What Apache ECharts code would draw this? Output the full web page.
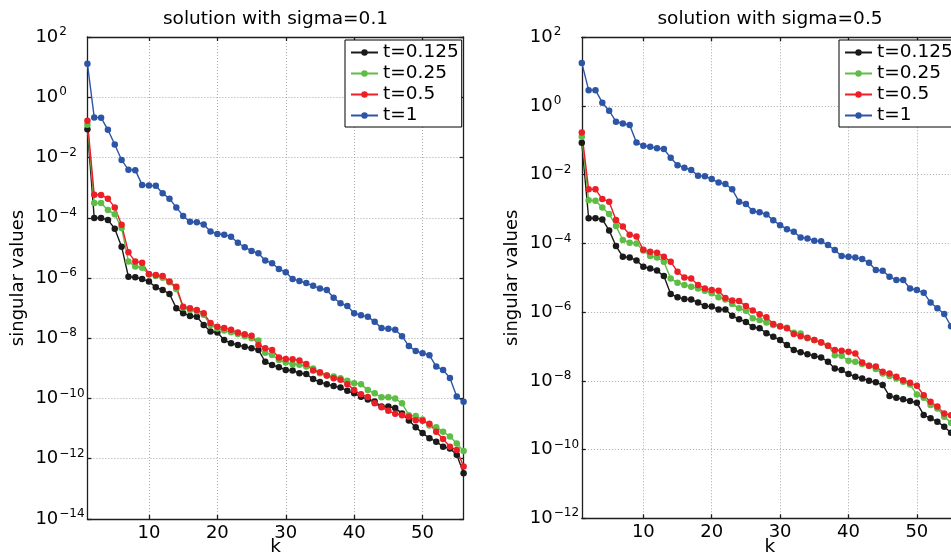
<!DOCTYPE html>
<html><head><meta charset="utf-8">
<script src="https://cdn.jsdelivr.net/npm/echarts@6/dist/echarts.min.js"></script>
<style>html,body{margin:0;padding:0;background:#fff}#c{width:951px;height:558px}</style>
</head><body><div id="c"></div>
<script>
// k index (x axis)
const K = [1,2,3,4,5,6,7,8,9,10,11,12,13,14,15,16,17,18,19,20,21,22,23,24,25,26,27,28,
  29,30,31,32,33,34,35,36,37,38,39,40,41,42,43,44,45,46,47,48,49,50,51,52,53,54,55,56];
const seriesNames = ['t=0.125','t=0.25','t=0.5','t=1'];
const xTicks = [10,20,30,40,50];
const titles = ['solution with sigma=0.1','solution with sigma=0.5'];

// sigma = 0.1
const s1_t0125 = [8.7e-2,9.8e-5,9.8e-5,8.5e-5,4.3e-5,1.1e-5,1.1e-6,1.05e-6,9.3e-7,7.6e-7,4.9e-7,4.0e-7,2.95e-7,1.0e-7,
  6.8e-8,5.5e-8,5.2e-8,2.75e-8,1.66e-8,1.55e-8,8.7e-9,6.8e-9,6.0e-9,5.2e-9,4.7e-9,4.1e-9,1.66e-9,1.29e-9,
  1.1e-9,8.9e-10,8.5e-10,6.9e-10,6.5e-10,4.4e-10,3.5e-10,3.0e-10,2.6e-10,2.3e-10,1.8e-10,1.48e-10,1.15e-10,9.3e-11,
  7.9e-11,5.4e-11,5.4e-11,4.8e-11,3.2e-11,1.86e-11,1.12e-11,7.1e-12,4.8e-12,3.7e-12,2.5e-12,2.2e-12,1.35e-12,3.3e-13];
const s1_t025 = [1.23e-1,3.1e-4,3.1e-4,1.8e-4,1.3e-4,4.6e-5,3.5e-6,2.4e-6,2.2e-6,1.3e-6,1.17e-6,1.02e-6,7.2e-7,4.3e-7,
  1.05e-7,8.7e-8,7.9e-8,6.0e-8,2.75e-8,2.1e-8,1.8e-8,1.58e-8,1.38e-8,1.17e-8,1.0e-8,8.5e-9,3.3e-9,2.8e-9,
  1.9e-9,1.58e-9,1.38e-9,1.32e-9,1.15e-9,1.0e-9,6.9e-10,5.75e-10,5.4e-10,4.7e-10,3.9e-10,3.2e-10,3.0e-10,1.9e-10,
  1.48e-10,1.1e-10,1.1e-10,1.0e-10,6.9e-11,2.8e-11,2.6e-11,2.0e-11,1.26e-11,1.12e-11,7.9e-12,5.5e-12,3.2e-12,1.8e-12];
const s1_t05 = [1.66e-1,5.75e-4,5.7e-4,4.3e-4,2.2e-4,5.9e-5,7.1e-6,3.5e-6,3.2e-6,1.35e-6,1.26e-6,1.17e-6,7.6e-7,5.1e-7,
  1.12e-7,1.0e-7,8.7e-8,6.8e-8,3.2e-8,2.4e-8,2.2e-8,1.9e-8,1.55e-8,1.35e-8,1.2e-8,6.0e-9,4.7e-9,4.1e-9,
  2.3e-9,2.05e-9,2.0e-9,1.82e-9,1.41e-9,8.5e-10,7.4e-10,5.75e-10,4.7e-10,4.2e-10,3.0e-10,1.9e-10,1.38e-10,1.12e-10,
  6.9e-11,5.1e-11,3.9e-11,3.1e-11,2.8e-11,2.5e-11,1.9e-11,1.82e-11,1.45e-11,7.9e-12,4.5e-12,2.5e-12,1.95e-12,5.5e-13];
const s1_t1 = [1.3e1,2.14e-1,2.1e-1,8.3e-2,2.7e-2,8.3e-3,3.9e-3,3.8e-3,1.23e-3,1.17e-3,1.15e-3,6.5e-4,4.3e-4,2.2e-4,
  1.15e-4,7.4e-5,7.1e-5,6.0e-5,3.5e-5,2.9e-5,2.75e-5,2.35e-5,1.48e-5,1.05e-5,7.9e-6,6.6e-6,3.8e-6,3.1e-6,
  2.0e-6,1.55e-6,9.3e-7,7.9e-7,6.8e-7,5.5e-7,4.5e-7,4.0e-7,2.2e-7,1.45e-7,1.17e-7,6.8e-8,5.75e-8,5.2e-8,
  3.5e-8,2.2e-8,2.05e-8,1.9e-8,1.17e-8,5.5e-9,3.8e-9,3.2e-9,2.75e-9,1.15e-9,8.9e-10,4.8e-10,1.17e-10,7.8e-11];

// sigma = 0.5
const s2_t0125 = [8.5e-2,5.4e-4,5.4e-4,5.0e-4,2.4e-4,8.4e-5,4.1e-5,3.9e-5,3.2e-5,2.1e-5,1.86e-5,1.62e-5,1.12e-5,3.4e-6,
  2.7e-6,2.4e-6,2.35e-6,1.9e-6,1.5e-6,1.45e-6,1.2e-6,1.2e-6,7.8e-7,6.2e-7,5.2e-7,3.7e-7,3.4e-7,2.45e-7,
  1.93e-7,1.54e-7,1.1e-7,7.9e-8,6.8e-8,6.0e-8,5.3e-8,4.8e-8,3.6e-8,2.3e-8,2.06e-8,1.58e-8,1.32e-8,1.18e-8,
  1.0e-8,9.1e-9,7.6e-9,3.6e-9,3.2e-9,2.9e-9,2.6e-9,2.3e-9,1.02e-9,8.1e-10,6.5e-10,4.6e-10,3.1e-10,1.6e-10];
const s2_t025 = [1.28e-1,1.82e-3,1.75e-3,1.12e-3,7.2e-4,3.2e-4,1.26e-4,1.05e-4,1.0e-4,6.2e-5,4.3e-5,3.9e-5,2.95e-5,9.5e-6,
  7.2e-6,6.2e-6,5.5e-6,4.9e-6,4.2e-6,3.55e-6,2.7e-6,2.35e-6,1.74e-6,1.29e-6,1.1e-6,6.6e-7,5.9e-7,5.0e-7,
  4.2e-7,3.8e-7,3.5e-7,2.5e-7,2.4e-7,1.73e-7,1.54e-7,1.29e-7,1.05e-7,5.6e-8,5.4e-8,3.85e-8,3.6e-8,3.1e-8,
  2.75e-8,2.2e-8,1.65e-8,1.38e-8,1.18e-8,9.4e-9,7.9e-9,4.0e-9,3.2e-9,2.0e-9,1.58e-9,9.1e-10,6.0e-10,3.2e-10];
const s2_t05 = [1.7e-1,3.75e-3,3.75e-3,1.96e-3,1.64e-3,4.8e-4,3.1e-4,1.78e-4,1.58e-4,6.5e-5,5.75e-5,5.4e-5,4.1e-5,2.95e-5,
  1.5e-5,1.02e-5,9.5e-6,6.2e-6,4.9e-6,4.4e-6,4.2e-6,2.6e-6,2.2e-6,2.1e-6,1.5e-6,1.12e-6,8.7e-7,7.1e-7,
  4.5e-7,3.9e-7,3.4e-7,2.3e-7,2.0e-7,1.8e-7,1.54e-7,1.32e-7,1.05e-7,7.9e-8,7.5e-8,7.0e-8,6.3e-8,3.45e-8,
  2.75e-8,2.6e-8,1.85e-8,1.65e-8,1.32e-8,1.05e-8,8.8e-9,7.2e-9,3.8e-9,2.45e-9,1.78e-9,1.12e-9,1.0e-9,5.0e-10];
const s2_t1 = [1.8e1,2.9,2.9,1.25,7.3e-1,3.5e-1,3.1e-1,2.8e-1,8.6e-2,7.0e-2,6.5e-2,5.9e-2,5.6e-2,3.1e-2,
  1.9e-2,1.6e-2,1.37e-2,9.4e-3,9.0e-3,7.5e-3,5.9e-3,5.4e-3,3.75e-3,1.64e-3,1.4e-3,8.8e-4,8.1e-4,7.0e-4,
  4.7e-4,3.4e-4,2.6e-4,2.2e-4,1.5e-4,1.4e-4,1.2e-4,1.15e-4,9.0e-5,6.4e-5,4.3e-5,4.1e-5,3.9e-5,3.5e-5,
  2.75e-5,1.68e-5,1.6e-5,1.08e-5,8.6e-6,8.6e-6,4.9e-6,4.4e-6,3.7e-6,1.9e-6,1.3e-6,8.8e-7,3.9e-7,1.8e-7];

const FONT = '"DejaVu Sans", "Liberation Sans", sans-serif';
const COLORS = ['#1a1a1a', '#5dbd45', '#ec1f27', '#2d55a6'];
const panels = [
  { data: [s1_t0125, s1_t025, s1_t05, s1_t1], ymin: 1e-14, grid: {left: 87.4, top: 37, width: 376.2, height: 482}, legendLeft: 345, titleX: 275.5 },
  { data: [s2_t0125, s2_t025, s2_t05, s2_t1], ymin: 1e-12, grid: {left: 581.8, top: 37.3, width: 376.1, height: 481}, legendLeft: 839, titleX: 770 }
];

function yFmt(v) {
  const e = Math.round(Math.log10(v));
  return '{b|10}{s|' + (e < 0 ? '\u2212' + (-e) : String(e)) + '}';
}
const axisLineStyle = { color: '#1e1e1e', width: 1.3 };
const gridLineStyle = { type: [1, 2], color: '#a8a8a8', width: 1 };

const option = {
  animation: false,
  backgroundColor: '#fff',
  grid: [], xAxis: [], yAxis: [], series: [], legend: [], graphic: []
};

panels.forEach((p, g) => {
  option.grid.push(Object.assign({ containLabel: false, outerBoundsMode: 'none' }, p.grid));
  option.xAxis.push({
    gridIndex: g, type: 'value', min: 1, max: 56, position: 'bottom',
    name: 'k', nameLocation: 'middle', nameGap: 19, nameMoveOverlap: false,
    nameTextStyle: { fontFamily: FONT, fontSize: 18.5, color: '#000' },
    axisLine: { show: true, lineStyle: axisLineStyle },
    axisTick: { show: true, inside: true, length: 4, customValues: xTicks, lineStyle: axisLineStyle },
    axisLabel: { customValues: xTicks, fontFamily: FONT, fontSize: 18, color: '#000', margin: 5 },
    splitLine: { show: true, lineStyle: gridLineStyle }
  });
  option.xAxis.push({
    gridIndex: g, type: 'value', min: 1, max: 56, position: 'top',
    axisLine: { show: true, lineStyle: axisLineStyle },
    axisTick: { show: true, inside: true, length: 4, customValues: xTicks, lineStyle: axisLineStyle },
    axisLabel: { show: false }, splitLine: { show: false }
  });
  option.yAxis.push({
    gridIndex: g, type: 'log', logBase: 10, min: p.ymin, max: 100, interval: 2, position: 'left',
    name: 'singular values', nameLocation: 'middle', nameGap: 60, nameRotate: 90, nameMoveOverlap: false,
    nameTextStyle: { fontFamily: FONT, fontSize: 18, color: '#000' },
    axisLine: { show: true, lineStyle: axisLineStyle },
    axisTick: { show: true, inside: true, length: 4, lineStyle: axisLineStyle },
    axisLabel: {
      formatter: yFmt, align: 'left', margin: 52,
      rich: {
        b: { fontFamily: FONT, fontSize: 18, color: '#000', lineHeight: 22 },
        s: { fontFamily: FONT, fontSize: 12, color: '#000', lineHeight: 22, verticalAlign: 'top', padding: [0, 0, 0, 1] }
      }
    },
    splitLine: { show: true, lineStyle: gridLineStyle },
    minorTick: { show: false }
  });
  option.yAxis.push({
    gridIndex: g, type: 'log', logBase: 10, min: p.ymin, max: 100, interval: 2, position: 'right',
    axisLine: { show: true, lineStyle: axisLineStyle },
    axisTick: { show: true, inside: true, length: 4, lineStyle: axisLineStyle },
    axisLabel: { show: false }, splitLine: { show: false }
  });
  p.data.forEach((arr, i) => {
    option.series.push({
      name: seriesNames[i], type: 'line', xAxisIndex: g * 2, yAxisIndex: g * 2,
      data: K.map((k, j) => [k, arr[j]]),
      symbol: 'circle', symbolSize: 6.5, showSymbol: true,
      itemStyle: { color: COLORS[i] },
      lineStyle: { color: COLORS[i], width: 1.4 },
      emphasis: { disabled: true }
    });
  });
  option.legend.push({
    data: seriesNames, orient: 'vertical', left: p.legendLeft, top: 40,
    padding: [3, 3, 2, 5], itemGap: 2, itemWidth: 27, itemHeight: 8,
    borderColor: '#000', borderWidth: 1, backgroundColor: '#fff', borderRadius: 0,
    selectedMode: false,
    textStyle: { fontFamily: FONT, fontSize: 18.5, color: '#000', lineHeight: 19 }
  });
  option.graphic.push({
    type: 'text', x: p.titleX, y: 19,
    style: { text: titles[g], font: '18.5px "DejaVu Sans"', fill: '#000', align: 'center', verticalAlign: 'middle' }
  });
});

const chart = echarts.init(document.getElementById('c'), null, { renderer: 'canvas' });
chart.setOption(option);
</script>
</body></html>
